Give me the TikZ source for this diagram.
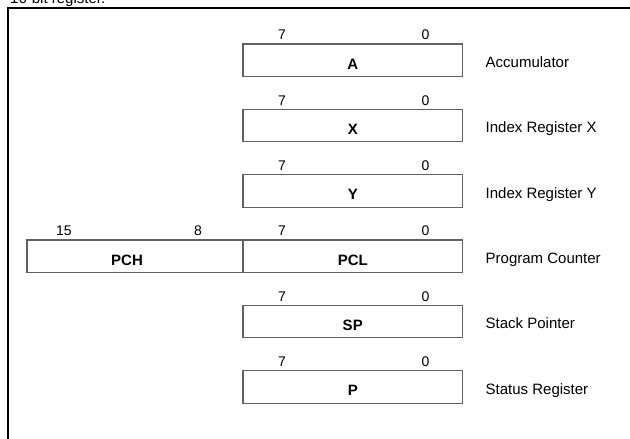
\documentclass[tikz,border=0pt]{standalone}
\usepackage{fontspec}
\setmainfont{Liberation Sans}
\begin{document}
\begin{tikzpicture}[x=1pt,y=-1pt,
  regbox/.style={draw=black!62, line width=1.2pt, minimum width=219.5pt, minimum height=32.5pt, inner sep=0pt, outer sep=0pt},
  pchbox/.style={regbox, minimum width=216pt},
  boxname/.style={font=\fontsize{15}{18}\selectfont\bfseries, anchor=base, yshift=7.5pt, inner sep=0pt},
  bitnum/.style={font=\fontsize{14}{17}\selectfont, anchor=base, yshift=4.3pt, inner sep=0pt},
  regname/.style={font=\fontsize{15}{18}\selectfont, anchor=base west, xshift=23pt, yshift=9.2pt, inner sep=0pt},
  frameline/.style={line width=2pt, black}]
\useasboundingbox (0,0) rectangle (630,439);
\clip (0,0) rectangle (630,439);

% caption line above the frame
\node[font=\fontsize{15}{18}\selectfont, anchor=base west, inner sep=0pt] (cap) at (10,4) {16-bit register.};

% open frame (continues past the right and bottom edges)
\coordinate (fTL) at (8,7.5);
\coordinate (fTR) at (640,7.5);
\coordinate (fBL) at (8,450);
\draw[frameline] (fBL) -- (fTL) -- (fTR);

% 8-bit registers
\foreach \n/\lab/\desc/\t in {A/A/Accumulator/44, X/X/Index Register X/109.3, Y/Y/Index Register Y/174.7, PCL/PCL/Program Counter/240, SP/SP/Stack Pointer/305.3, P/P/Status Register/370.7}{
  \node[regbox, anchor=north west] (reg\n) at (243,\t) {};
  \node[boxname] (name\n) at (reg\n.south) {\lab};
  \node[bitnum, xshift=39pt] (hi\n) at (reg\n.north west) {7};
  \node[bitnum, xshift=-37pt] (lo\n) at (reg\n.north east) {0};
  \node[regname] (desc\n) at (reg\n.south east) {\desc};
}

% high byte of the program counter
\node[pchbox, anchor=north east] (regPCH) at (243,240) {};
\node[boxname, xshift=-8pt] (namePCH) at (regPCH.south) {PCH};
\node[bitnum, xshift=37pt] (hiPCH) at (regPCH.north west) {15};
\node[bitnum, xshift=-45pt] (loPCH) at (regPCH.north east) {8};
\end{tikzpicture}
\end{document}
